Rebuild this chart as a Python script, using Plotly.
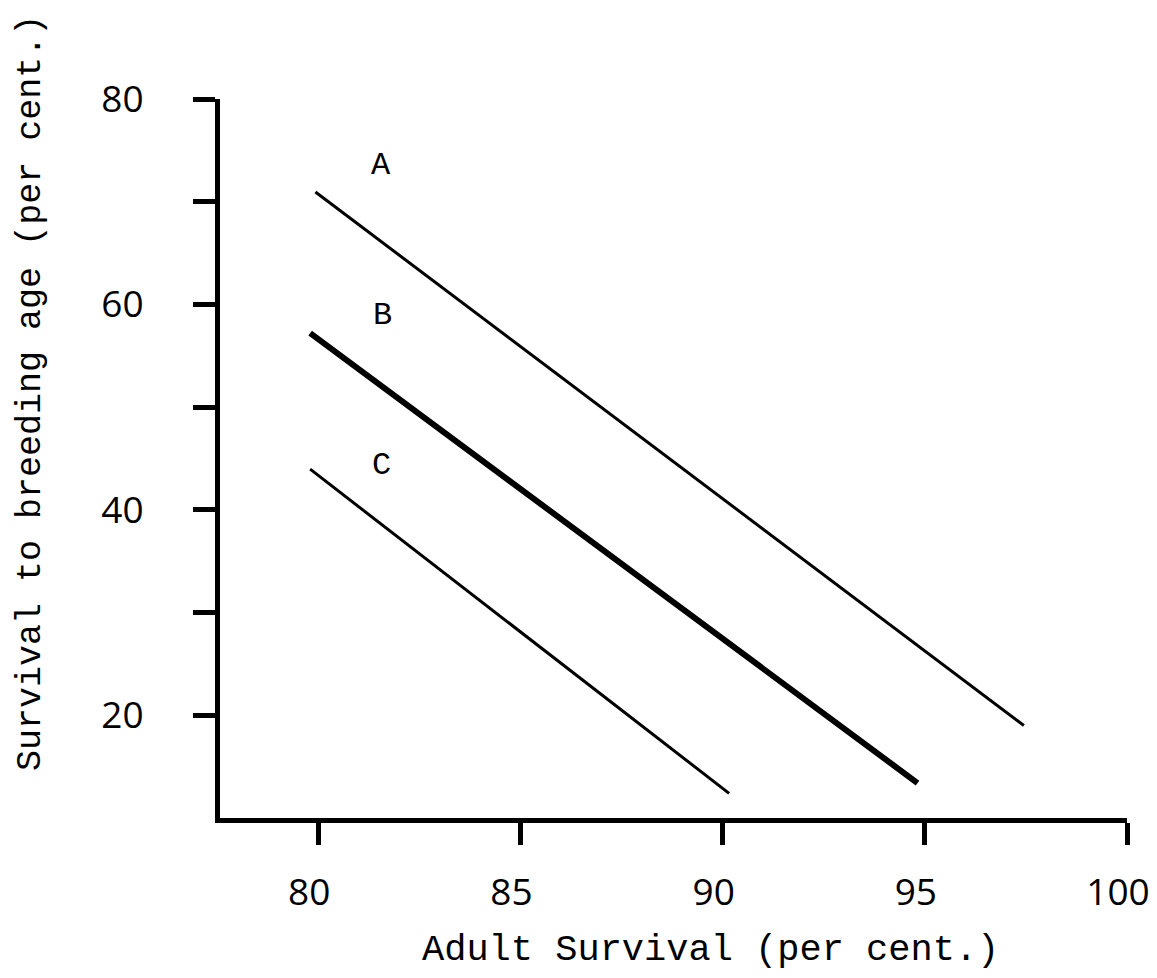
import plotly.graph_objects as go

# Data
x_ticks = [80, 85, 90, 95, 100]
x_tick_labels = ["80", "85", "90", "95", "100"]
y_ticks = [20, 30, 40, 50, 60, 70, 80]
y_tick_labels = ["20", "", "40", "", "60", "", "80"]

line_names = ["A", "B", "C"]
line_x = [[79.93, 97.45], [79.8, 94.82], [79.8, 90.16]]
line_y = [[70.94, 19.0], [57.2, 13.4], [43.96, 12.4]]
line_widths = [3, 6, 3]

label_x = [81.56, 81.59, 81.56]
label_y = [73.5, 58.9, 44.35]

MONO = "Liberation Mono"
NUM = "Open Sans"

fig = go.Figure()
for name, xs, ys, w in zip(line_names, line_x, line_y, line_widths):
    fig.add_trace(go.Scatter(x=xs, y=ys, mode="lines", name=name,
                             line=dict(color="black", width=w),
                             showlegend=False, hoverinfo="skip"))

for name, lx, ly in zip(line_names, label_x, label_y):
    fig.add_annotation(x=lx, y=ly, text=name, showarrow=False,
                       font=dict(family=MONO, size=32, color="black"),
                       xanchor="center", yanchor="middle")

# Axis titles
fig.add_annotation(xref="paper", yref="paper", x=0.541, y=-0.184,
                   text="Adult Survival (per cent.)", showarrow=False,
                   font=dict(family=MONO, size=37, color="black"),
                   xanchor="center", yanchor="middle")
fig.add_annotation(xref="paper", yref="paper", x=-0.2085, y=0.591,
                   text="Survival to breeding age (per cent.)", showarrow=False,
                   textangle=-90, borderpad=0,
                   font=dict(family=MONO, size=35, color="black"),
                   xanchor="center", yanchor="middle")

fig.update_layout(
    width=1157, height=978,
    margin=dict(l=212, r=38, t=91, b=168),
    paper_bgcolor="white", plot_bgcolor="white",
    showlegend=False,
)
fig.update_xaxes(
    range=[77.57, 100], tickmode="array", tickvals=x_ticks, ticktext=x_tick_labels,
    showline=True, linecolor="black", linewidth=5, mirror=False,
    ticks="outside", ticklen=22, tickwidth=5, tickcolor="black",
    showgrid=False, zeroline=False, automargin=False,
    tickfont=dict(family=NUM, size=37, color="black"),
    ticklabelstandoff=16, ticklabeloverflow="allow", ticklabelshift=-9,
)
fig.update_yaxes(
    range=[10, 80], tickmode="array", tickvals=y_ticks, ticktext=y_tick_labels,
    showline=True, linecolor="black", linewidth=5, mirror=False,
    ticks="outside", ticklen=22, tickwidth=5, tickcolor="black",
    showgrid=False, zeroline=False, automargin=False,
    tickfont=dict(family=NUM, size=37, color="black"),
    ticklabelstandoff=42, ticklabeloverflow="allow",
)

fig.write_html("out.html")
